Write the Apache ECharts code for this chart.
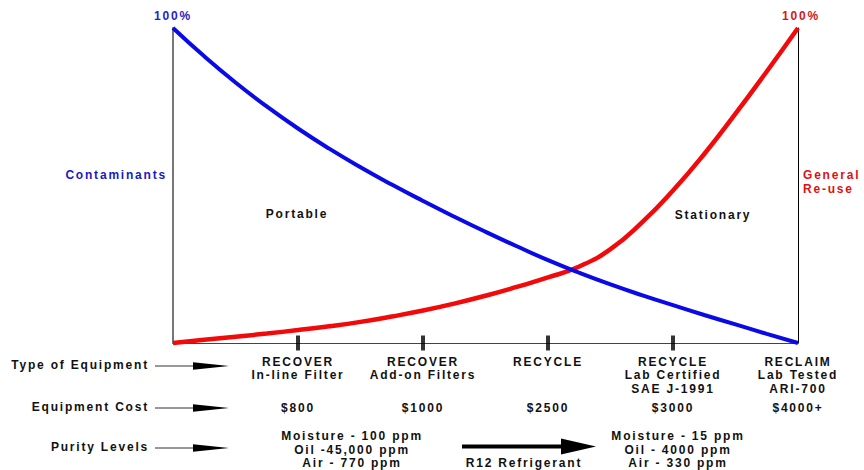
<!DOCTYPE html>
<html>
<head>
<meta charset="utf-8">
<script src="https://cdn.jsdelivr.net/npm/echarts@6/dist/echarts.min.js"></script>
<style>
  html, body { margin: 0; padding: 0; background: #fff; }
  #chart { width: 864px; height: 470px; }
  #chart svg text { letter-spacing: 1.8px; }
</style>
</head>
<body>
<div id="chart"></div>
<script>
// Position along the equipment scale (0 = left edge, 5 = RECLAIM)
const xs = [0, 0.25, 0.5, 0.75, 1, 1.25, 1.5, 1.75, 2, 2.25, 2.5, 2.75, 3, 3.25, 3.5, 3.75, 4, 4.25, 4.5, 4.75, 5];
// Contaminant level (%) – falls as equipment gets more capable
const contaminants = [100, 91, 82.7, 75.1, 68.1, 61.7, 55.8, 50.3, 45.1, 40.1, 35.3, 30.7, 26.3, 22.3, 18.6, 15.2, 12, 8.9, 5.9, 2.9, 0];
// Suitability for general re-use (%)
const generalReuse = [0, 1, 2, 3, 4.1, 5.3, 6.7, 8.4, 10.3, 12.5, 15, 17.8, 20.8, 24.3, 29.8, 38.2, 48.4, 60, 72.8, 86.2, 100];

const tickPositions = [1, 2, 3, 4];
const equipmentTypes = ['', 'RECOVER\nIn-line Filter', 'RECOVER\nAdd-on Filters', 'RECYCLE',
  'RECYCLE\nLab Certified\nSAE J-1991', 'RECLAIM\nLab Tested\nARI-700'];
const equipmentCosts = ['', '$800', '$1000', '$2500', '$3000', '$4000+'];
const rowHeads = ['Type of Equipment', 'Equipment Cost', 'Purity Levels'];
const purityPortable = ['Moisture - 100 ppm', 'Oil -45,000 ppm', 'Air - 770 ppm'];
const purityStationary = ['Moisture - 15 ppm', 'Oil - 4000 ppm', 'Air - 330 ppm'];
const refrigerant = 'R12 Refrigerant';

const FONT = 'Liberation Sans, Arial, sans-serif';
const BLUE = '#0a0ae6';
const RED = '#f20a0a';

const chart = echarts.init(document.getElementById('chart'), null, { renderer: 'svg' });

function pair(ys) { return xs.map((x, i) => [x, ys[i]]); }

function label(x, y, text, align, color) {
  return {
    type: 'text', x: x, y: y,
    style: { text: text, font: 'bold 12px ' + FONT, fill: color || '#111', align: align, verticalAlign: 'middle' }
  };
}

// Row headings on the left with their pointer arrows
const rowY = [366, 408, 448];
const graphics = [];
rowHeads.forEach((t, i) => {
  const y = rowY[i];
  graphics.push(label(149, y - 1, t, 'right'));
  graphics.push({
    type: 'line', shape: { x1: 155, y1: y, x2: 196, y2: y },
    style: { stroke: '#333', lineWidth: 1 }
  });
  graphics.push({
    type: 'polygon', shape: { points: [[193, y - 3.8], [229, y], [193, y + 3.8]] },
    style: { fill: '#000' }
  });
});

// Purity level blocks and the refrigerant arrow between them
purityPortable.forEach((t, i) => graphics.push(label(352, 436 + i * 13.5, t, 'center')));
purityStationary.forEach((t, i) => graphics.push(label(678, 436 + i * 13.5, t, 'center')));
graphics.push({
  type: 'line', shape: { x1: 462, y1: 446.5, x2: 566, y2: 446.5 },
  style: { stroke: '#000', lineWidth: 4 }
});
graphics.push({
  type: 'polygon', shape: { points: [[561, 438.5], [596, 446.5], [561, 454.5]] },
  style: { fill: '#000' }
});
graphics.push(label(524, 463, refrigerant, 'center'));

// Side captions and region labels
graphics.push(label(167, 175, 'Contaminants', 'right', '#1a1ac0'));
graphics.push(label(803, 175, 'General', 'left', '#e01010'));
graphics.push(label(803, 189, 'Re-use', 'left', '#e01010'));
graphics.push(label(297, 214, 'Portable', 'center'));
graphics.push(label(713, 215, 'Stationary', 'center'));

const option = {
  animation: false,
  backgroundColor: '#fff',
  grid: { left: 173, right: 66, top: 28, bottom: 127, containLabel: false },
  xAxis: [
    {
      type: 'value', min: 0, max: 5, interval: 1,
      axisLine: { show: true, onZero: false, lineStyle: { color: '#444', width: 1 } },
      axisTick: { show: false },
      splitLine: { show: false },
      axisLabel: {
        margin: 12, color: '#111', fontFamily: FONT, fontWeight: 'bold', fontSize: 12,
        lineHeight: 13.5, align: 'center',
        formatter: v => equipmentTypes[Math.round(v)]
      }
    },
    {
      type: 'value', min: 0, max: 5, interval: 1, position: 'bottom', offset: 47,
      axisLine: { show: false }, axisTick: { show: false }, splitLine: { show: false },
      axisLabel: {
        margin: 11, color: '#111', fontFamily: FONT, fontWeight: 'bold', fontSize: 12,
        lineHeight: 13.5, align: 'center',
        formatter: v => equipmentCosts[Math.round(v)]
      }
    }
  ],
  yAxis: [
    {
      type: 'value', min: 0, max: 100, position: 'left',
      name: '100%', nameLocation: 'end', nameGap: 6,
      nameTextStyle: { color: '#2525c0', fontFamily: FONT, fontWeight: 'bold', fontSize: 12, align: 'center' },
      axisLine: { show: true, onZero: false, lineStyle: { color: '#777', width: 2 } },
      axisTick: { show: false }, axisLabel: { show: false }, splitLine: { show: false }
    },
    {
      type: 'value', min: 0, max: 100, position: 'right',
      name: '100%', nameLocation: 'end', nameGap: 6,
      nameTextStyle: { color: '#d41818', fontFamily: FONT, fontWeight: 'bold', fontSize: 12, align: 'center', padding: [0, 0, 0, 6] },
      axisLine: { show: true, onZero: false, lineStyle: { color: '#000', width: 1 } },
      axisTick: { show: false }, axisLabel: { show: false }, splitLine: { show: false }
    }
  ],
  series: [
    {
      name: 'General Re-use', type: 'line', data: pair(generalReuse),
      smooth: 0.5, showSymbol: false, clip: false,
      lineStyle: { color: RED, width: 4.5 }, z: 3
    },
    {
      name: 'Contaminants', type: 'line', data: pair(contaminants),
      smooth: 0.5, showSymbol: false, clip: false,
      lineStyle: { color: BLUE, width: 4 }, z: 4
    },
    {
      name: 'ticks', type: 'scatter', data: tickPositions.map(x => [x, 0]),
      symbol: 'rect', symbolSize: [4, 15], clip: false,
      itemStyle: { color: '#000' }, z: 5, silent: true
    }
  ],
  graphic: graphics
};

chart.setOption(option);
</script>
</body>
</html>
